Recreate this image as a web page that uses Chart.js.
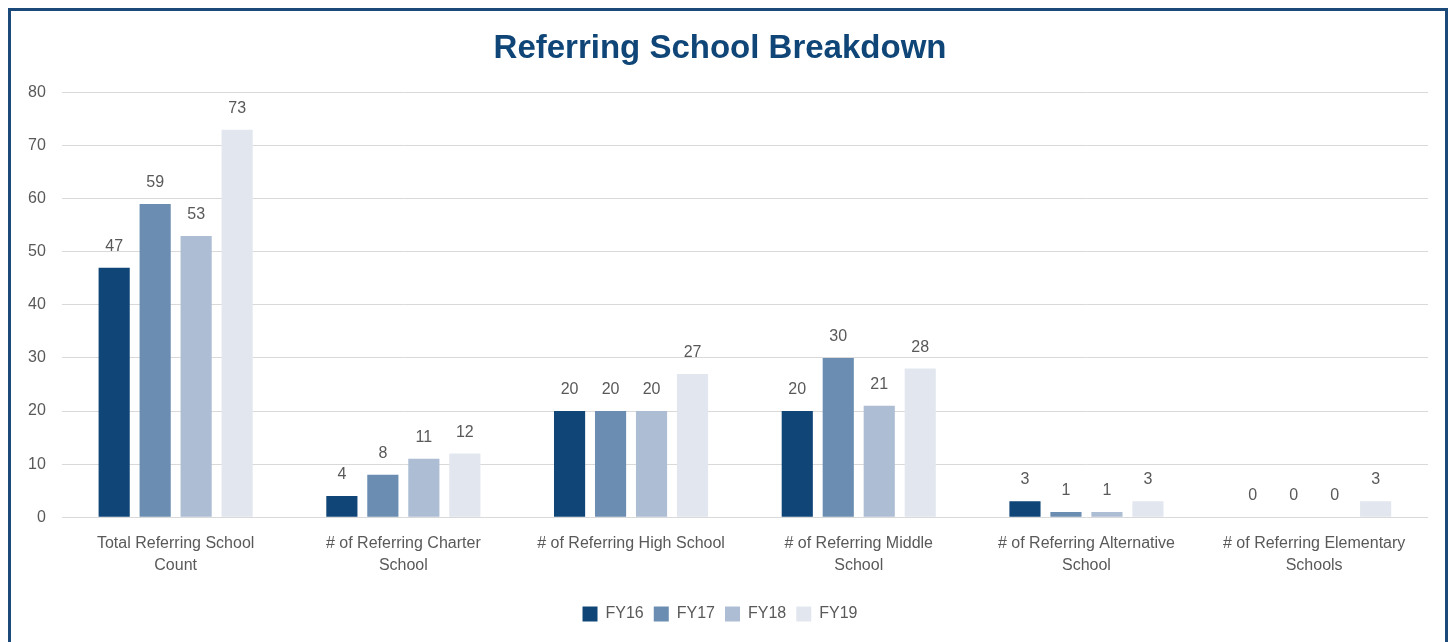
<!DOCTYPE html>
<html>
<head>
<meta charset="utf-8">
<script src="https://cdn.jsdelivr.net/npm/chart.js@4"></script>
<style>
  body { margin: 0; background: #fff; }
  #wrap { position: relative; width: 1450px; height: 642px; }
  #frame { position: absolute; left: 8px; top: 8px; width: 1434px; height: 660px; border: 3px solid #1b4a7a; pointer-events: none; }
  canvas { position: absolute; left: 0; top: 0; }
</style>
</head>
<body>
<div id="wrap">
  <canvas id="grafico" width="1450" height="642"></canvas>
  <div id="frame"></div>
</div>
<script>
// dados do grafico
var categorias = [
  ["Total Referring School", "Count"],
  ["# of Referring Charter", "School"],
  "# of Referring High School",
  ["# of Referring Middle", "School"],
  ["# of Referring Alternative", "School"],
  ["# of Referring Elementary", "Schools"]
];
var fy16 = [47, 4, 20, 20, 3, 0];
var fy17 = [59, 8, 20, 30, 1, 0];
var fy18 = [53, 11, 20, 21, 1, 0];
var fy19 = [73, 12, 27, 28, 3, 3];
var series = ["FY16", "FY17", "FY18", "FY19"];
var cores = ["#0f4577", "#6a8db1", "#adbdd4", "#e2e7ef"];

var fonte = "'Liberation Sans', Arial, sans-serif";
var cinza = "#595959";

//Rotulos em cima das barras
var rotulos = {
  id: 'rotulos',
  afterDatasetsDraw: function(chart) {
    var ctx = chart.ctx;
    ctx.save();
    ctx.font = "16px " + fonte;
    ctx.fillStyle = cinza;
    ctx.textAlign = "center";
    ctx.textBaseline = "alphabetic";
    chart.data.datasets.forEach(function(ds, i) {
      chart.getDatasetMeta(i).data.forEach(function(bar, j) {
        ctx.fillText(String(ds.data[j]), bar.x, bar.y - 17);
      });
    });
    ctx.restore();
  }
};

var dados = [fy16, fy17, fy18, fy19];

var config = {
  type: 'bar',
  data: {
    labels: categorias,
    datasets: series.map(function(nome, i) {
      return {
        label: nome,
        data: dados[i],
        backgroundColor: cores[i],
        categoryPercentage: 0.72,
        barPercentage: 0.76
      };
    })
  },
  options: {
    responsive: false,
    animation: false,
    layout: { padding: { left: 12, right: 22, top: 0, bottom: 10 } },
    plugins: {
      title: {
        display: true,
        text: 'Referring School Breakdown',
        color: '#0f4577',
        font: { family: fonte, size: 33, weight: 'bold' },
        padding: { top: 29, bottom: 24 }
      },
      legend: {
        position: 'bottom',
        labels: {
          color: cinza,
          boxWidth: 15,
          boxHeight: 15,
          padding: 10,
          font: { family: fonte, size: 16 }
        }
      },
      tooltip: { enabled: false }
    },
    scales: {
      x: {
        grid: { display: false },
        border: { display: false },
        ticks: {
          color: cinza,
          font: { family: fonte, size: 16, lineHeight: 1.4 },
          padding: 7,
          maxRotation: 0,
          autoSkip: false
        },
        // espaço extra entre os rotulos e a legenda
        afterFit: function(scale) { scale.height += 12; }
      },
      y: {
        min: 0,
        max: 80,
        border: { display: false },
        grid: { color: '#d9d9d9', lineWidth: 1, drawTicks: false },
        ticks: {
          stepSize: 10,
          color: cinza,
          font: { family: fonte, size: 16 },
          padding: 16
        }
      }
    }
  },
  plugins: [rotulos]
};

var ctx = document.getElementById("grafico").getContext("2d");
window.meuGrafico = new Chart(ctx, config);
</script>
</body>
</html>
